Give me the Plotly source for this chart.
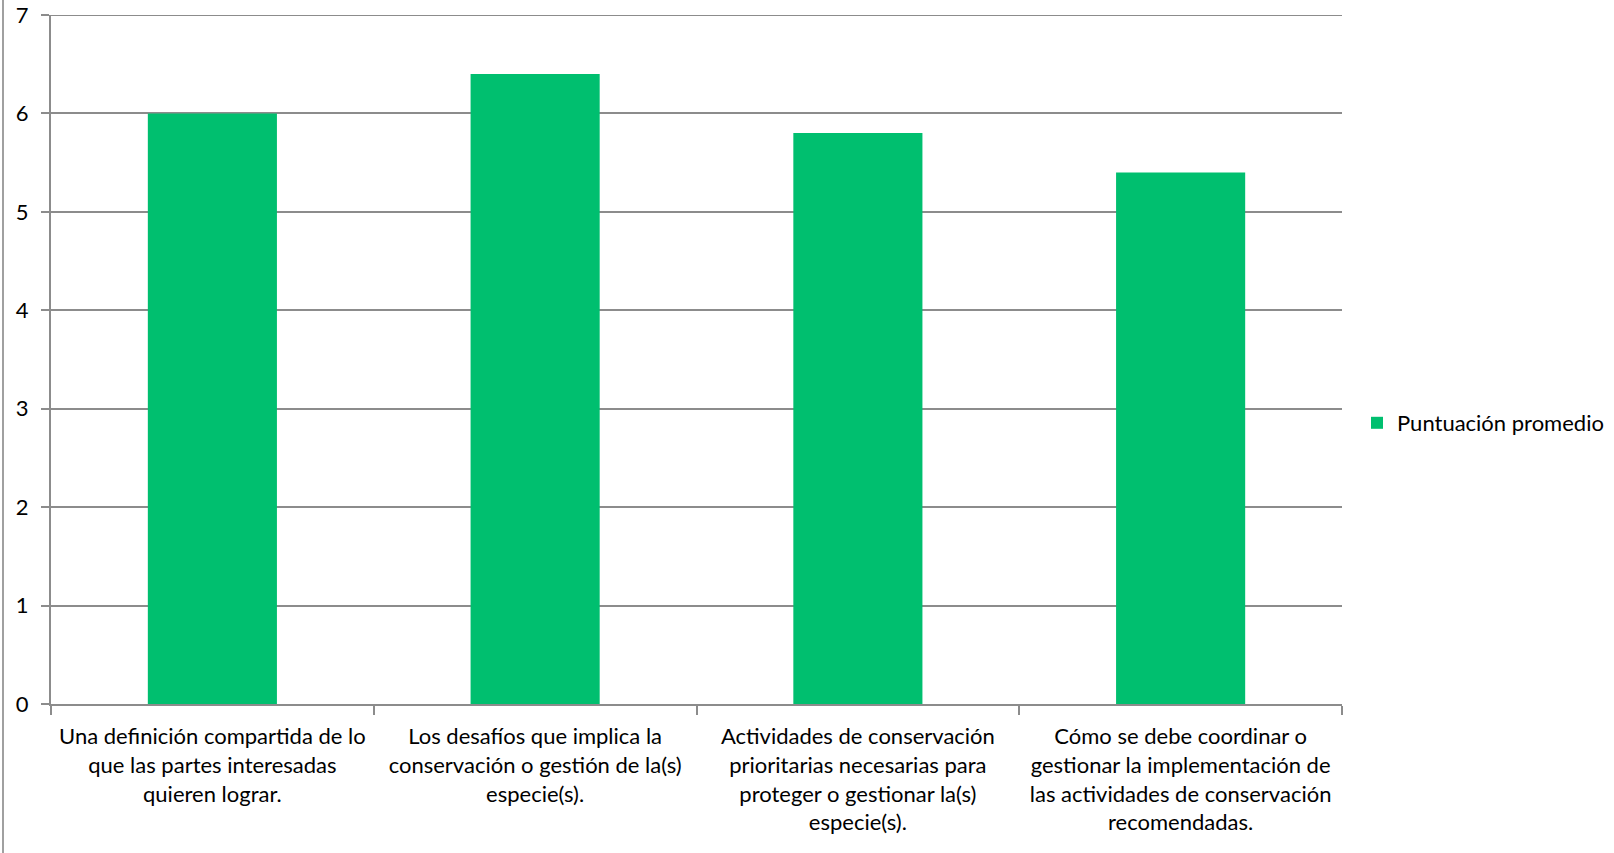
import plotly.graph_objects as go

categories = [
    "Una definición compartida de lo<br>que las partes interesadas<br>quieren lograr.",
    "Los desafíos que implica la<br>conservación o gestión de la(s)<br>especie(s).",
    "Actividades de conservación<br>prioritarias necesarias para<br>proteger o gestionar la(s)<br>especie(s).",
    "Cómo se debe coordinar o<br>gestionar la implementación de<br>las actividades de conservación<br>recomendadas.",
]
values = [6.0, 6.4, 5.8, 5.4]
series_name = "Puntuación promedio"
y_ticks = [0, 1, 2, 3, 4, 5, 6, 7]

W, H = 1614, 853
ml, mr, mt, mb = 51, 272, 15, 149
pw, ph = W - ml - mr, H - mt - mb

font_family = "Lato, 'Open Sans', sans-serif"
grid_color = "#8c8c8c"
text_color = "#000000"

fig = go.Figure(
    go.Bar(
        x=categories,
        y=values,
        name=series_name,
        marker=dict(color="#00BF6F", line=dict(width=0)),
        width=0.4,
        showlegend=True,
    )
)

fig.update_layout(
    width=W,
    height=H,
    margin=dict(l=ml, r=mr, t=mt, b=mb, autoexpand=False),
    paper_bgcolor="white",
    plot_bgcolor="white",
    font=dict(family=font_family, size=22, color=text_color),
    showlegend=True,
    legend=dict(
        x=(1357 - ml) / pw,
        y=(704 - 423) / ph,
        xanchor="left",
        yanchor="middle",
        font=dict(size=22, color=text_color),
        itemwidth=30,
        bgcolor="rgba(0,0,0,0)",
    ),
    xaxis=dict(
        showline=True,
        linecolor=grid_color,
        linewidth=2,
        ticks="outside",
        tickson="boundaries",
        ticklen=9,
        tickcolor=grid_color,
        tickwidth=2,
        showgrid=False,
        tickfont=dict(size=22, color=text_color),
        ticklabelstandoff=12,
        range=[-0.5, 3.5],
    ),
    yaxis=dict(
        range=[0, 7],
        tickvals=y_ticks,
        showline=True,
        linecolor=grid_color,
        linewidth=2,
        ticks="outside",
        ticklen=8,
        tickcolor=grid_color,
        tickwidth=2,
        showgrid=True,
        gridcolor=grid_color,
        gridwidth=2,
        zeroline=False,
        tickfont=dict(size=22, color=text_color),
        ticklabelstandoff=8,
    ),
    shapes=[
        dict(
            type="line",
            xref="paper",
            yref="y",
            x0=-8 / pw,
            x1=1,
            y0=7,
            y1=7,
            line=dict(color=grid_color, width=2),
        ),
        dict(
            type="line",
            xref="paper",
            yref="paper",
            x0=(3 - ml) / pw,
            x1=(3 - ml) / pw,
            y0=-(mb) / ph,
            y1=1 + mt / ph,
            line=dict(color="#a0a0a0", width=2),
        ),
    ],
)

fig.write_html("out.html")
